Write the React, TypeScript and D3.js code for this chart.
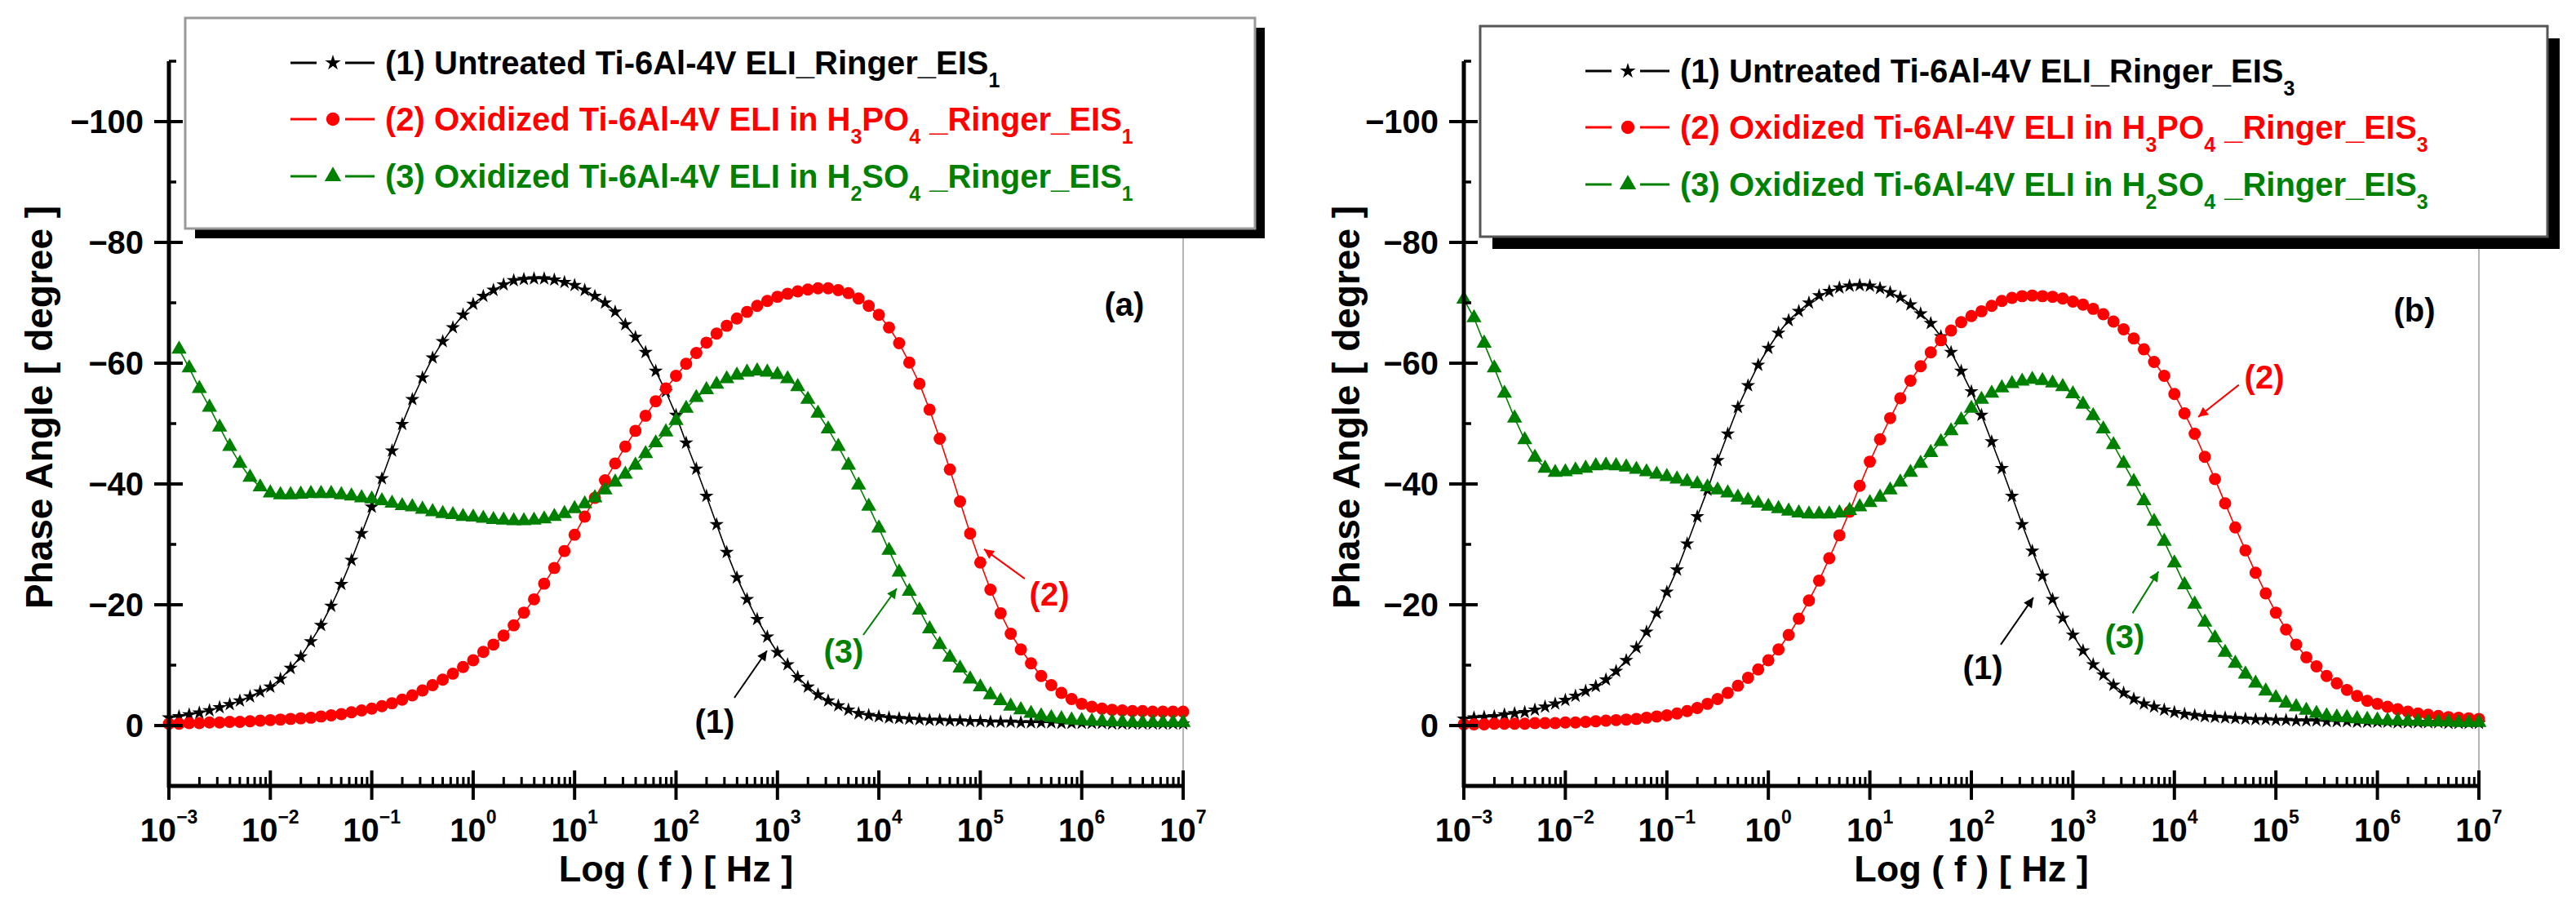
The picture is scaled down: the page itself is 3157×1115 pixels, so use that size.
import React from 'react';
import * as d3 from 'd3';

// ---------- data ----------
const LOG_FREQ = [
  -3.0, -2.9, -2.8, -2.7, -2.6, -2.5, -2.4, -2.3, -2.2, -2.1,
  -2.0, -1.9, -1.8, -1.7, -1.6, -1.5, -1.4, -1.3, -1.2, -1.1,
  -1.0, -0.9, -0.8, -0.7, -0.6, -0.5, -0.4, -0.3, -0.2, -0.1,
  0.0, 0.1, 0.2, 0.3, 0.4, 0.5, 0.6, 0.7, 0.8, 0.9,
  1.0, 1.1, 1.2, 1.3, 1.4, 1.5, 1.6, 1.7, 1.8, 1.9,
  2.0, 2.1, 2.2, 2.3, 2.4, 2.5, 2.6, 2.7, 2.8, 2.9,
  3.0, 3.1, 3.2, 3.3, 3.4, 3.5, 3.6, 3.7, 3.8, 3.9,
  4.0, 4.1, 4.2, 4.3, 4.4, 4.5, 4.6, 4.7, 4.8, 4.9,
  5.0, 5.1, 5.2, 5.3, 5.4, 5.5, 5.6, 5.7, 5.8, 5.9,
  6.0, 6.1, 6.2, 6.3, 6.4, 6.5, 6.6, 6.7, 6.8, 6.9,
  7.0,
];

// Panel (a) – EIS1
const A_UNTREATED = [
  -1.3, -1.5, -1.8, -2.1, -2.5, -3.0, -3.5, -4.1, -4.8, -5.6,
  -6.4, -7.7, -9.5, -11.4, -13.9, -16.6, -19.8, -23.4, -27.4, -31.8,
  -36.2, -40.9, -45.5, -49.9, -54.0, -57.6, -60.9, -63.6, -65.9, -68.0,
  -69.8, -71.1, -72.1, -73.0, -73.7, -73.9, -74.0, -74.0, -73.8, -73.4,
  -72.9, -72.1, -71.1, -70.0, -68.5, -66.4, -64.3, -61.8, -58.7, -55.3,
  -51.4, -46.8, -42.5, -38.0, -33.3, -28.7, -24.5, -20.9, -17.6, -14.7,
  -12.1, -10.1, -8.0, -6.4, -5.1, -4.1, -3.3, -2.6, -2.0, -1.7,
  -1.5, -1.3, -1.2, -1.1, -1.0, -0.9, -0.9, -0.8, -0.8, -0.7,
  -0.7, -0.6, -0.6, -0.6, -0.5, -0.5, -0.5, -0.5, -0.4, -0.4,
  -0.4, -0.4, -0.4, -0.3, -0.3, -0.3, -0.3, -0.3, -0.3, -0.3,
  -0.3,
];
const A_H3PO4 = [
  -0.3, -0.3, -0.4, -0.4, -0.5, -0.5, -0.6, -0.6, -0.7, -0.8,
  -0.9, -1.0, -1.1, -1.2, -1.3, -1.5, -1.7, -1.9, -2.2, -2.5,
  -2.8, -3.2, -3.7, -4.3, -5.0, -5.8, -6.7, -7.6, -8.6, -9.7,
  -10.8, -12.2, -13.4, -14.9, -16.6, -18.7, -20.9, -23.5, -26.1, -28.9,
  -31.6, -34.6, -37.7, -40.6, -43.4, -46.2, -48.8, -51.3, -53.7, -55.8,
  -57.9, -59.9, -61.7, -63.4, -64.9, -66.2, -67.4, -68.5, -69.5, -70.3,
  -71.0, -71.5, -71.9, -72.2, -72.4, -72.4, -72.1, -71.6, -70.7, -69.5,
  -68.0, -65.9, -63.3, -60.1, -56.6, -52.3, -47.5, -42.4, -37.1, -31.8,
  -27.0, -22.5, -18.6, -15.2, -12.6, -10.3, -8.2, -6.7, -5.4, -4.4,
  -3.6, -3.1, -2.8, -2.6, -2.5, -2.4, -2.4, -2.3, -2.3, -2.3,
  -2.3,
];
const A_H2SO4 = [
  null, -62.3, -59.2, -55.8, -52.7, -49.4, -46.2, -43.4, -41.1, -39.5,
  -38.5, -38.2, -38.2, -38.3, -38.4, -38.4, -38.4, -38.2, -38.0, -37.7,
  -37.5, -37.2, -36.8, -36.4, -36.2, -35.8, -35.4, -35.1, -34.9, -34.6,
  -34.5, -34.3, -34.1, -34.0, -33.9, -33.9, -34.0, -34.2, -34.6, -35.1,
  -35.9, -36.7, -37.7, -39.0, -40.3, -41.6, -43.1, -45.0, -46.8, -48.6,
  -50.5, -52.5, -54.3, -55.6, -56.5, -57.4, -58.0, -58.5, -58.7, -58.5,
  -58.1, -57.4, -56.1, -54.0, -51.7, -49.1, -46.2, -43.1, -39.8, -36.3,
  -32.7, -29.0, -25.4, -22.2, -19.1, -16.0, -13.4, -11.3, -9.5, -7.7,
  -6.4, -5.1, -4.1, -3.2, -2.6, -2.0, -1.6, -1.3, -1.1, -0.9,
  -0.8, -0.7, -0.7, -0.6, -0.6, -0.5, -0.5, -0.5, -0.5, -0.5,
  -0.5,
];

// Panel (b) – EIS3
const B_UNTREATED = [
  -1.1, -1.3, -1.4, -1.5, -1.8, -2.0, -2.2, -2.6, -3.1, -3.6,
  -4.2, -4.9, -5.7, -6.5, -7.6, -9.0, -10.8, -12.9, -15.5, -18.6,
  -22.1, -25.8, -30.1, -34.6, -39.0, -43.9, -48.3, -52.7, -56.3, -59.7,
  -62.5, -65.0, -67.1, -68.6, -70.0, -71.2, -71.9, -72.5, -72.8, -72.9,
  -72.8, -72.4, -71.7, -70.9, -69.7, -68.2, -66.6, -64.4, -61.8, -58.7,
  -55.3, -51.4, -47.0, -42.6, -38.0, -33.3, -28.9, -24.8, -20.9, -17.8,
  -15.0, -12.4, -10.1, -8.4, -6.7, -5.4, -4.4, -3.6, -3.1, -2.6,
  -2.2, -1.9, -1.7, -1.5, -1.4, -1.3, -1.2, -1.1, -1.0, -1.0,
  -0.9, -0.9, -0.8, -0.8, -0.8, -0.7, -0.7, -0.7, -0.6, -0.6,
  -0.6, -0.6, -0.5, -0.5, -0.5, -0.5, -0.5, -0.4, -0.4, -0.4,
  -0.4,
];
const B_H3PO4 = [
  -0.2, -0.2, -0.2, -0.3, -0.3, -0.3, -0.3, -0.4, -0.4, -0.4,
  -0.5, -0.5, -0.6, -0.7, -0.8, -0.9, -1.0, -1.1, -1.3, -1.5,
  -1.7, -2.0, -2.4, -2.9, -3.6, -4.4, -5.4, -6.6, -7.9, -9.3,
  -10.8, -12.6, -15.0, -17.7, -20.7, -24.0, -27.7, -31.5, -35.4, -39.7,
  -43.7, -47.4, -50.9, -54.2, -57.1, -59.5, -61.8, -63.8, -65.4, -66.8,
  -67.8, -68.6, -69.5, -70.3, -70.8, -71.1, -71.2, -71.1, -71.0, -70.7,
  -70.2, -69.7, -69.0, -68.1, -66.9, -65.6, -64.1, -62.3, -60.2, -57.9,
  -54.9, -51.7, -48.3, -44.5, -40.8, -36.8, -32.8, -29.0, -25.3, -21.9,
  -18.7, -15.9, -13.4, -11.3, -9.8, -8.2, -7.0, -5.9, -4.9, -4.1,
  -3.6, -3.1, -2.7, -2.3, -2.0, -1.8, -1.6, -1.4, -1.3, -1.2,
  -1.1,
];
const B_H2SO4 = [
  -70.6, -67.5, -63.3, -59.2, -55.0, -50.9, -47.3, -44.4, -42.6, -41.9,
  -42.0, -42.3, -42.6, -43.0, -43.1, -43.0, -42.8, -42.4, -42.0, -41.6,
  -41.2, -40.8, -40.4, -40.0, -39.5, -39.0, -38.5, -37.8, -37.3, -36.8,
  -36.3, -35.9, -35.5, -35.2, -35.0, -35.0, -35.0, -35.2, -35.6, -36.2,
  -36.9, -37.8, -39.0, -40.3, -41.9, -43.4, -45.2, -47.0, -48.8, -50.6,
  -52.5, -54.0, -55.0, -55.9, -56.6, -57.0, -57.3, -57.1, -56.7, -56.1,
  -54.9, -53.2, -51.3, -49.1, -46.5, -43.4, -40.4, -37.2, -33.8, -30.5,
  -26.9, -23.3, -20.1, -17.1, -14.5, -12.1, -10.3, -8.5, -7.0, -5.7,
  -4.6, -3.7, -3.1, -2.5, -2.0, -1.6, -1.4, -1.3, -1.1, -1.0,
  -0.9, -0.8, -0.8, -0.7, -0.7, -0.6, -0.6, -0.6, -0.5, -0.5,
  -0.5,
];

const X_DECADES = [-3, -2, -1, 0, 1, 2, 3, 4, 5, 6, 7];
const X_MINOR_MULT = [2, 3, 4, 5, 6, 7, 8, 9];
const Y_MAJOR = [0, -20, -40, -60, -80, -100];
const Y_MINOR = [-10, -30, -50, -70, -90, -110];

const SERIES_COLORS = ['#000000', '#ff0000', '#008000'];
const SERIES_SYMBOLS = [d3.symbolStar, d3.symbolCircle, d3.symbolTriangle];
const SERIES_SIZES = [95, 175, 150];

// legend segments: [text, isSubscript]
const legendRows = (n: string) => [
  [['(1) Untreated Ti-6Al-4V ELI_Ringer_EIS', false], [n, true]],
  [['(2) Oxidized Ti-6Al-4V ELI in H', false], ['3', true], ['PO', false], ['4', true], [' _Ringer_EIS', false], [n, true]],
  [['(3) Oxidized Ti-6Al-4V ELI in H', false], ['2', true], ['SO', false], ['4', true], [' _Ringer_EIS', false], [n, true]],
];

// annotations in data coordinates [log f, phase]
const ANNOT_A = [
  { label: '(1)', series: 0, text: [2.382, -0.7], tail: [2.575, -4.6], head: [2.897, -12.4] },
  { label: '(3)', series: 2, text: [3.653, -12.3], tail: [3.846, -15.0], head: [4.176, -22.7] },
  { label: '(2)', series: 1, text: [5.681, -21.8], tail: [5.439, -24.3], head: [5.037, -29.2] },
];
const ANNOT_B = [
  { label: '(1)', series: 0, text: [2.113, -9.6], tail: [2.289, -13.4], head: [2.611, -21.2] },
  { label: '(3)', series: 2, text: [3.511, -14.7], tail: [3.588, -18.6], head: [3.844, -25.5] },
  { label: '(2)', series: 1, text: [4.886, -57.7], tail: [4.635, -56.4], head: [4.235, -51.1] },
];

const FONT = "'Liberation Sans', Arial, Helvetica, sans-serif";

const PANELS = [
  {
    id: 'a', x0: 207, x1: 1450, series: [A_UNTREATED, A_H3PO4, A_H2SO4], annots: ANNOT_A,
    panelLabel: '(a)', panelLabelPos: [6.42, -69.7], yTitleX: 64,
    legend: { x: 227, y: 22, w: 1311, h: 258, shadow: 12, border: '#9a9a9a', sub: '1' },
  },
  {
    id: 'b', x0: 1794, x1: 3038, series: [B_UNTREATED, B_H3PO4, B_H2SO4], annots: ANNOT_B,
    panelLabel: '(b)', panelLabelPos: [6.365, -68.8], yTitleX: 1666,
    legend: { x: 1814, y: 32, w: 1308, h: 258, shadow: 15, border: '#555555', sub: '3' },
  },
];

const Y_TOP = 75;
const Y_BOTTOM = 963;

function Panel({ p }: { p: any }) {
  const x = d3.scaleLog().domain([1e-3, 1e7]).range([p.x0, p.x1]);
  const y = d3.scaleLinear().domain([10, -110]).range([Y_BOTTOM, Y_TOP]);
  const fx = (lf: number) => x(Math.pow(10, lf));

  const line = d3
    .line<any>()
    .defined((d) => d[1] != null)
    .x((d) => fx(d[0]))
    .y((d) => y(d[1]));

  const L = p.legend;
  const rows = legendRows(L.sub);
  const rowOffsets = [55, 124, 194];

  return (
    <g>
      <defs>
        {SERIES_COLORS.map((c, i) => (
          <marker
            key={i}
            id={`arr-${p.id}-${i}`}
            viewBox="0 0 10 10"
            refX="10"
            refY="5"
            markerWidth="7"
            markerHeight="6"
            markerUnits="strokeWidth"
            orient="auto"
          >
            <path d="M0,0 L10,5 L0,10 z" fill={c} />
          </marker>
        ))}
      </defs>

      {/* right frame (light grey) */}
      <line x1={p.x1} x2={p.x1} y1={Y_TOP} y2={Y_BOTTOM} stroke="#b5b5b5" strokeWidth={2} />

      {/* series */}
      {p.series.map((vals: (number | null)[], si: number) => {
        const pts = LOG_FREQ.map((lf, i) => [lf, vals[i]]);
        const sym = d3.symbol().type(SERIES_SYMBOLS[si]).size(SERIES_SIZES[si])();
        return (
          <g key={si}>
            <path d={line(pts) || ''} fill="none" stroke={SERIES_COLORS[si]} strokeWidth={1.6} />
            {pts
              .filter((d) => d[1] != null)
              .map((d, k) => (
                <path
                  key={k}
                  d={sym || ''}
                  transform={`translate(${fx(d[0] as number)},${y(d[1] as number)})`}
                  fill={SERIES_COLORS[si]}
                />
              ))}
          </g>
        );
      })}

      {/* axes */}
      <line x1={p.x0} x2={p.x0} y1={Y_TOP} y2={Y_BOTTOM + 2} stroke="#000" strokeWidth={5} />
      <line x1={p.x0 - 2} x2={p.x1 + 2} y1={Y_BOTTOM} y2={Y_BOTTOM} stroke="#000" strokeWidth={5} />

      {Y_MAJOR.map((v) => (
        <g key={v}>
          <line x1={p.x0 - 18} x2={p.x0 + 17} y1={y(v)} y2={y(v)} stroke="#000" strokeWidth={4} />
          <text
            x={p.x0 - 31}
            y={y(v) + 14}
            textAnchor="end"
            fontSize={40}
            fontWeight="bold"
            fontFamily={FONT}
          >
            {v === 0 ? '0' : '\u2212' + Math.abs(v)}
          </text>
        </g>
      ))}
      {Y_MINOR.map((v) => (
        <line key={v} x1={p.x0} x2={p.x0 + 9} y1={y(v)} y2={y(v)} stroke="#000" strokeWidth={3.5} />
      ))}

      {X_DECADES.map((k) => (
        <g key={k}>
          <line
            x1={x(Math.pow(10, k))}
            x2={x(Math.pow(10, k))}
            y1={Y_BOTTOM - 19}
            y2={Y_BOTTOM + 17}
            stroke="#000"
            strokeWidth={4}
          />
          <text
            x={x(Math.pow(10, k))}
            y={1031}
            textAnchor="middle"
            fontSize={40}
            fontWeight="bold"
            fontFamily={FONT}
          >
            <tspan>10</tspan>
            <tspan fontSize={23} dy={-22}>
              {k < 0 ? '\u2212' + Math.abs(k) : String(k)}
            </tspan>
          </text>
        </g>
      ))}
      {X_DECADES.slice(0, -1).map((k) =>
        X_MINOR_MULT.map((m) => (
          <line
            key={`${k}-${m}`}
            x1={x(m * Math.pow(10, k))}
            x2={x(m * Math.pow(10, k))}
            y1={Y_BOTTOM - 11}
            y2={Y_BOTTOM}
            stroke="#000"
            strokeWidth={3}
          />
        ))
      )}

      {/* axis titles */}
      <text
        x={(p.x0 + p.x1) / 2}
        y={1080}
        textAnchor="middle"
        fontSize={45}
        fontWeight="bold"
        fontFamily={FONT}
      >
        Log ( f ) [ Hz ]
      </text>
      <text
        transform={`translate(${p.yTitleX},499) rotate(-90)`}
        textAnchor="middle"
        fontSize={46}
        fontWeight="bold"
        fontFamily={FONT}
        style={{ whiteSpace: 'pre' }}
      >
        Phase Angle [ degree ]
      </text>

      {/* annotations */}
      {p.annots.map((a: any, i: number) => (
        <g key={i}>
          <line
            x1={fx(a.tail[0])}
            y1={y(a.tail[1])}
            x2={fx(a.head[0])}
            y2={y(a.head[1])}
            stroke={SERIES_COLORS[a.series]}
            strokeWidth={2}
            markerEnd={`url(#arr-${p.id}-${a.series})`}
          />
          <text
            x={fx(a.text[0])}
            y={y(a.text[1]) + 14}
            textAnchor="middle"
            fontSize={40}
            fontWeight="bold"
            fontFamily={FONT}
            fill={SERIES_COLORS[a.series]}
          >
            {a.label}
          </text>
        </g>
      ))}
      <text
        x={fx(p.panelLabelPos[0])}
        y={y(p.panelLabelPos[1]) + 14}
        textAnchor="middle"
        fontSize={40}
        fontWeight="bold"
        fontFamily={FONT}
      >
        {p.panelLabel}
      </text>

      {/* legend */}
      <rect x={L.x + L.shadow} y={L.y + L.shadow} width={L.w} height={L.h} fill="#000" />
      <rect x={L.x} y={L.y} width={L.w} height={L.h} fill="#fff" stroke={L.border} strokeWidth={3} />
      {rows.map((segs: any[], ri: number) => {
        const cy = L.y + rowOffsets[ri];
        const c = SERIES_COLORS[ri];
        const sym = d3.symbol().type(SERIES_SYMBOLS[ri]).size(SERIES_SIZES[ri] * 1.2)();
        let shifted = false;
        return (
          <g key={ri}>
            <line x1={L.x + 129} x2={L.x + 161} y1={cy} y2={cy} stroke={c} strokeWidth={3} />
            <line x1={L.x + 196} x2={L.x + 232} y1={cy} y2={cy} stroke={c} strokeWidth={3} />
            <path d={sym || ''} transform={`translate(${L.x + 181},${cy})`} fill={c} />
            <text
              x={L.x + 245}
              y={cy + 14}
              fontSize={40}
              fontWeight="bold"
              fontFamily={FONT}
              fill={c}
              style={{ whiteSpace: 'pre' }}
            >
              {segs.map((s, k) => {
                let dy = 0;
                if (s[1] && !shifted) {
                  dy = 16;
                  shifted = true;
                } else if (!s[1] && shifted) {
                  dy = -16;
                  shifted = false;
                }
                return (
                  <tspan key={k} dy={dy} fontSize={s[1] ? 25 : 40}>
                    {s[0]}
                  </tspan>
                );
              })}
            </text>
          </g>
        );
      })}
    </g>
  );
}

export default function App() {
  return (
    <div style={{ position: 'absolute', left: 0, top: 0, background: '#fff' }}>
      <svg width={3157} height={1115} viewBox="0 0 3157 1115" style={{ display: 'block' }}>
        <rect x={0} y={0} width={3157} height={1115} fill="#fff" />
        {PANELS.map((p) => (
          <Panel key={p.id} p={p} />
        ))}
      </svg>
    </div>
  );
}
